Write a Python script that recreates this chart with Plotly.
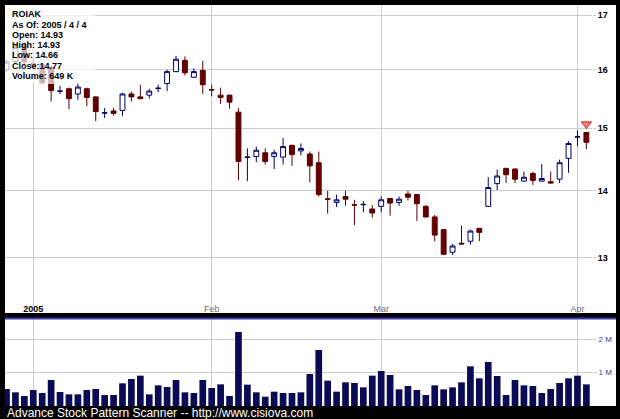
import plotly.graph_objects as go

# ---------------- data ----------------
dates = [
    '2004-12-29', '2004-12-30', '2004-12-31',
    '2005-01-03', '2005-01-04', '2005-01-05', '2005-01-06', '2005-01-07',
    '2005-01-10', '2005-01-11', '2005-01-12', '2005-01-13', '2005-01-14',
    '2005-01-18', '2005-01-19', '2005-01-20', '2005-01-21',
    '2005-01-24', '2005-01-25', '2005-01-26', '2005-01-27', '2005-01-28',
    '2005-01-31', '2005-02-01', '2005-02-02', '2005-02-03', '2005-02-04',
    '2005-02-07', '2005-02-08', '2005-02-09', '2005-02-10', '2005-02-11',
    '2005-02-14', '2005-02-15', '2005-02-16', '2005-02-17', '2005-02-18',
    '2005-02-22', '2005-02-23', '2005-02-24', '2005-02-25',
    '2005-02-28', '2005-03-01', '2005-03-02', '2005-03-03', '2005-03-04',
    '2005-03-07', '2005-03-08', '2005-03-09', '2005-03-10', '2005-03-11',
    '2005-03-14', '2005-03-15', '2005-03-16', '2005-03-17', '2005-03-18',
    '2005-03-21', '2005-03-22', '2005-03-23', '2005-03-24',
    '2005-03-28', '2005-03-29', '2005-03-30', '2005-03-31',
    '2005-04-01', '2005-04-04',
]
opens = [
    16.00, 16.15, 16.45,
    16.12, 16.09, 16.05, 15.625, 15.67,
    15.58, 15.67, 15.53, 15.255, 15.29,
    15.30, 15.58, 15.53, 15.56,
    15.675, 15.76, 15.97, 16.17, 15.87,
    15.99, 15.655, 15.56, 15.56, 15.27,
    14.525, 14.54, 14.60, 14.54, 14.53,
    14.72, 14.63, 14.58, 14.44, 13.875,
    13.82, 13.91, 13.785, 13.785,
    13.72, 13.76, 13.88, 13.82, 13.95,
    13.94, 13.76, 13.60, 13.41, 13.08,
    13.21, 13.24, 13.43, 13.76, 14.11,
    14.35, 14.34, 14.15, 14.27,
    14.15, 14.14, 14.18, 14.51,
    14.855, 14.93,
]
highs = [
    16.18, 16.45, 16.50,
    16.20, 16.12, 16.07, 15.72, 15.69,
    15.78, 15.69, 15.54, 15.34, 15.34,
    15.60, 15.62, 15.74, 15.67,
    15.74, 16.00, 16.25, 16.24, 16.03,
    16.16, 15.74, 15.69, 15.57, 15.34,
    14.67, 14.70, 14.67, 14.65, 14.84,
    14.73, 14.75, 14.62, 14.62, 14.00,
    13.94, 14.00, 13.86, 13.84,
    13.78, 13.91, 13.89, 13.91, 14.00,
    13.95, 13.78, 13.63, 13.42, 13.20,
    13.47, 13.41, 13.43, 14.21, 14.33,
    14.36, 14.35, 14.30, 14.30,
    14.42, 14.30, 14.49, 14.79,
    14.97, 14.93,
]
lows = [
    15.97, 16.10, 16.10,
    16.00, 15.75, 15.45, 15.58, 15.32,
    15.48, 15.37, 15.12, 15.17, 15.21,
    15.21, 15.45, 15.49, 15.50,
    15.61, 15.63, 15.96, 15.90, 15.86,
    15.58, 15.54, 15.41, 15.33, 14.16,
    14.15, 14.45, 14.41, 14.34, 14.41,
    14.39, 14.56, 14.13, 13.91, 13.65,
    13.75, 13.77, 13.48, 13.67,
    13.59, 13.67, 13.62, 13.77, 13.85,
    13.54, 13.59, 13.24, 13.04, 13.04,
    13.19, 13.19, 13.24, 13.75, 14.01,
    14.12, 14.12, 14.14, 14.09,
    14.14, 14.11, 14.12, 14.28,
    14.71, 14.66,
]
closes = [
    16.14, 16.40, 16.14,
    16.05, 15.77, 15.64, 15.63, 15.50,
    15.70, 15.52, 15.28, 15.26, 15.25,
    15.58, 15.53, 15.50, 15.63,
    15.68, 15.97, 16.19, 15.95, 15.97,
    15.74, 15.65, 15.52, 15.44, 14.46,
    14.53, 14.64, 14.46, 14.60, 14.70,
    14.57, 14.67, 14.39, 13.94, 13.87,
    13.86, 13.87, 13.78, 13.79,
    13.66, 13.86, 13.81, 13.87, 13.90,
    13.80, 13.60, 13.33, 13.05, 13.17,
    13.20, 13.39, 13.37, 14.05, 14.23,
    14.25, 14.18, 14.21, 14.16,
    14.19, 14.12, 14.44, 14.75,
    14.86, 14.77,
]
volumes = [
    510000, 410000, 300000,
    480000, 390000, 780000, 420000, 350000,
    350000, 480000, 510000, 330000, 330000,
    680000, 810000, 910000, 350000,
    620000, 570000, 780000, 410000, 390000,
    780000, 540000, 650000, 300000, 2220000,
    640000, 410000, 280000, 430000, 390000,
    390000, 410000, 960000, 1680000, 760000,
    430000, 710000, 690000, 560000,
    910000, 1050000, 930000, 500000, 600000,
    480000, 330000, 620000, 500000, 560000,
    710000, 1190000, 830000, 1320000, 900000,
    330000, 780000, 620000, 600000,
    390000, 510000, 690000, 830000,
    910000, 649000,
]
tick_dates = ['2005-01-03', '2005-02-01', '2005-03-01', '2005-04-01']
tick_labels = ['2005', 'Feb', 'Mar', 'Apr']
price_ticks = [13, 14, 15, 16, 17]
vol_ticks = [1000000, 2000000]
vol_tick_labels = ['1 M', '2 M']
signal_dates = ['2005-04-04']
signal_prices = [15.07]
info_lines = ['ROIAK', 'As Of: 2005 / 4 / 4', 'Open: 14.93', 'High: 14.93',
              'Low: 14.66', 'Close:14.77', 'Volume: 649 K']
footer = 'Advance Stock Pattern Scanner -- http://www.cisiova.com'

# ---------------- layout geometry (pixels) ----------------
W, H = 620, 419
ML, MR, MT, MB = 5, 28, 5, 13
PW = W - ML - MR
PH = H - MT - MB


def px(xp):
    return (xp - ML) / PW


def py(yp):
    return (H - MB - yp) / PH


price_dom = [py(313), 1]
vol_dom = [0, py(319)]

fig = go.Figure()
fig.add_trace(go.Candlestick(
    x=dates, open=opens, high=highs, low=lows, close=closes,
    xaxis='x', yaxis='y',
    increasing=dict(line=dict(color='#000066', width=1), fillcolor='#ffffff'),
    decreasing=dict(line=dict(color='#5a0000', width=1), fillcolor='#660000'),
    whiskerwidth=0, showlegend=False, hoverinfo='skip',
))
fig.add_trace(go.Scatter(
    x=signal_dates, y=signal_prices, mode='markers', xaxis='x', yaxis='y',
    marker=dict(symbol='triangle-down', size=9, color='#f08080',
                line=dict(color='#d03030', width=1)),
    showlegend=False, hoverinfo='skip',
))
fig.add_trace(go.Bar(
    x=dates, y=volumes, xaxis='x2', yaxis='y2',
    marker=dict(color='#0a0a55', line=dict(width=0)),
    showlegend=False, hoverinfo='skip',
))

grid = '#cccccc'
xtext = ['<b><span style="color:#000">%s</span></b>' % tick_labels[0]] + tick_labels[1:]

shapes = [
    dict(type='rect', xref='paper', yref='paper', x0=1, x1=px(616),
         y0=price_dom[0], y1=1, fillcolor='white', line=dict(width=0), layer='below'),
    dict(type='rect', xref='paper', yref='paper', x0=1, x1=px(616),
         y0=0, y1=vol_dom[1], fillcolor='white', line=dict(width=0), layer='below'),
    dict(type='line', xref='paper', yref='paper', x0=0, x1=px(616),
         y0=py(318.5), y1=py(318.5), line=dict(color='#3a3aa8', width=2)),
    dict(type='rect', xref='paper', yref='paper', x0=0, x1=px(95),
         y0=py(84), y1=1, fillcolor='rgba(255,255,255,0.7)', line=dict(width=0),
         layer='above'),
]

info_y = [14, 24.5, 34.5, 45, 55.5, 65.5, 76]
annotations = []
for t, yy in zip(info_lines, info_y):
    annotations.append(dict(
        text='<b>%s</b>' % t, xref='paper', yref='paper', x=px(10), y=py(yy),
        xanchor='left', yanchor='middle', showarrow=False,
        font=dict(family='Arial', size=9, color='#000000')))
annotations.append(dict(
    text=footer, xref='paper', yref='paper', x=px(5), y=py(413),
    xanchor='left', yanchor='middle', showarrow=False,
    font=dict(family='Arial', size=12, color='#ffffff')))

fig.update_layout(
    width=W, height=H,
    margin=dict(l=ML, r=MR, t=MT, b=MB, pad=0),
    paper_bgcolor='#000000', plot_bgcolor='#ffffff',
    boxgap=0.22, bargap=0.25,
    shapes=shapes, annotations=annotations,
    font=dict(family='Arial'),
    xaxis=dict(
        type='category', domain=[0, 1], anchor='y', range=[-0.17, 65.63],
        tickvals=tick_dates, ticktext=xtext, ticklabelposition='inside',
        ticklabelstandoff=-4,
        ticks='', showgrid=True, gridcolor=grid, gridwidth=1,
        tickfont=dict(size=9, color='#707070', family='Arial'),
        zeroline=False, showline=False, rangeslider=dict(visible=False),
    ),
    yaxis=dict(
        type='log', domain=price_dom, anchor='x', side='right',
        range=[1.08743, 1.23528], tickvals=price_ticks,
        ticktext=['<b>%d</b>' % v for v in price_ticks],
        ticks='outside', ticklen=3, tickcolor=grid,
        showgrid=True, gridcolor=grid, zeroline=False, showline=False,
        tickfont=dict(size=9, color='#000000', family='Arial'),
    ),
    xaxis2=dict(
        type='category', domain=[0, 1], anchor='y2', matches='x',
        tickvals=tick_dates, showticklabels=False, ticks='',
        showgrid=True, gridcolor=grid, zeroline=False, showline=False,
    ),
    yaxis2=dict(
        domain=vol_dom, anchor='x2', side='right', range=[0, 2610000],
        tickvals=vol_ticks, ticktext=vol_tick_labels,
        ticks='outside', ticklen=4, tickcolor=grid,
        showgrid=True, gridcolor=grid, zeroline=False, showline=False,
        tickfont=dict(size=8, color='#3a3a99', family='Arial'),
    ),
)

fig.write_html(
    'out.html',
    config={'displayModeBar': False},
    post_script="document.body.style.margin='0';document.body.style.background='#000';"
                "document.documentElement.style.overflow='hidden';",
)
